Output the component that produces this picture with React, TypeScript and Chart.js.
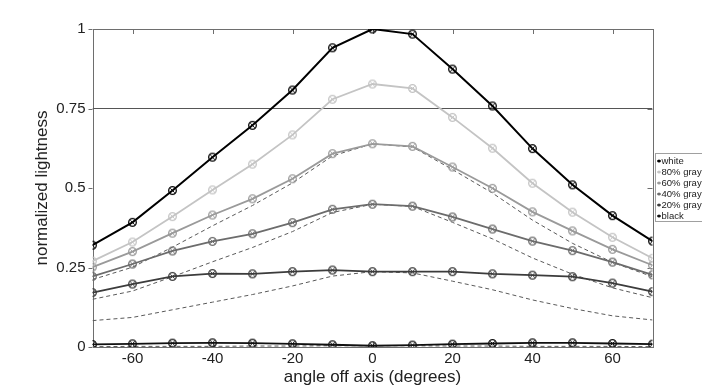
import React, { useEffect, useRef } from "react";
import { Chart, registerables } from "chart.js";

Chart.register(...registerables);

const angles = [-70, -60, -50, -40, -30, -20, -10, 0, 10, 20, 30, 40, 50, 60, 70];
const white = [0.32, 0.392, 0.492, 0.597, 0.697, 0.808, 0.941, 1.0, 0.984, 0.874, 0.758, 0.624, 0.51, 0.413, 0.333];
const gray80 = [0.27, 0.33, 0.41, 0.494, 0.575, 0.667, 0.779, 0.827, 0.813, 0.722, 0.625, 0.515, 0.424, 0.345, 0.279];
const gray60 = [0.251, 0.3, 0.358, 0.415, 0.466, 0.529, 0.608, 0.639, 0.631, 0.566, 0.499, 0.425, 0.365, 0.307, 0.257];
const gray40 = [0.222, 0.261, 0.302, 0.332, 0.356, 0.391, 0.433, 0.449, 0.443, 0.409, 0.371, 0.333, 0.303, 0.267, 0.227];
const gray20 = [0.171, 0.198, 0.222, 0.231, 0.23, 0.237, 0.242, 0.237, 0.237, 0.237, 0.23, 0.226, 0.221, 0.201, 0.174];
const black = [0.008, 0.01, 0.012, 0.013, 0.012, 0.01, 0.007, 0.004, 0.006, 0.009, 0.011, 0.013, 0.013, 0.011, 0.009];

// dashed reference curves
const ref60 = [0.212, 0.251, 0.314, 0.381, 0.445, 0.516, 0.601, 0.639, 0.629, 0.558, 0.484, 0.399, 0.326, 0.266, 0.221];
const ref40 = [0.15, 0.176, 0.221, 0.268, 0.313, 0.363, 0.423, 0.449, 0.442, 0.392, 0.34, 0.28, 0.229, 0.186, 0.155];
const ref20 = [0.083, 0.093, 0.117, 0.141, 0.165, 0.192, 0.223, 0.237, 0.233, 0.207, 0.18, 0.148, 0.121, 0.098, 0.085];
const refBlack = [0.001, 0.002, 0.002, 0.002, 0.003, 0.003, 0.004, 0.004, 0.004, 0.003, 0.003, 0.002, 0.002, 0.002, 0.001];

const thresholdValue = 0.75;
const xTicks = [-60, -40, -20, 0, 20, 40, 60];
const yTicks = [0, 0.25, 0.5, 0.75, 1];
const yTickLabels = ["0", "0.25", "0.5", "0.75", "1"];
const seriesNames = ["white", "80% gray", "60% gray", "40% gray", "20% gray", "black"];
const xTitle = "angle off axis (degrees)";
const yTitle = "normalized lightness";

const FONT = "'Liberation Sans', Arial, sans-serif";
const seriesColors = ["#000000", "#c4c4c4", "#9a9a9a", "#6c6c6c", "#3c3c3c", "#111111"];

function makeMarker(color: string): HTMLCanvasElement {
  const c = document.createElement("canvas");
  c.width = 11;
  c.height = 11;
  const g = c.getContext("2d")!;
  g.strokeStyle = color;
  g.lineWidth = 1.3;
  g.beginPath();
  g.arc(5.5, 5.5, 3.8, 0, Math.PI * 2);
  g.stroke();
  g.lineWidth = 1;
  g.beginPath();
  g.moveTo(3.3, 3.3);
  g.lineTo(7.7, 7.7);
  g.moveTo(7.7, 3.3);
  g.lineTo(3.3, 7.7);
  g.stroke();
  return c;
}

const framePlugin = {
  id: "frame",
  beforeDatasetsDraw(chart: any) {
    const { ctx, chartArea: a, scales } = chart;
    ctx.save();
    ctx.strokeStyle = "#6e6e6e";
    ctx.lineWidth = 1;
    ctx.strokeRect(Math.round(a.left) + 0.5, Math.round(a.top) + 0.5, Math.round(a.right - a.left), Math.round(a.bottom - a.top));
    ctx.beginPath();
    for (const v of xTicks) {
      const px = Math.round(scales.x.getPixelForValue(v)) + 0.5;
      ctx.moveTo(px, a.top);
      ctx.lineTo(px, a.top + 5);
      ctx.moveTo(px, a.bottom);
      ctx.lineTo(px, a.bottom - 5);
    }
    for (const v of yTicks) {
      const py = Math.round(scales.y.getPixelForValue(v)) + 0.5;
      ctx.moveTo(a.left - 4, py);
      ctx.lineTo(a.left, py);
      ctx.moveTo(a.right, py);
      ctx.lineTo(a.right - 5, py);
    }
    ctx.stroke();
    ctx.restore();
  },
  afterDraw(chart: any) {
    const { ctx, chartArea: a } = chart;
    ctx.save();
    ctx.fillStyle = "#222";
    ctx.font = `17px ${FONT}`;
    ctx.textAlign = "center";
    ctx.textBaseline = "middle";
    ctx.fillText(xTitle, (a.left + a.right) / 2, 377);
    ctx.translate(42, (a.top + a.bottom) / 2);
    ctx.rotate(-Math.PI / 2);
    ctx.fillText(yTitle, 0, 0);
    ctx.restore();

    // legend
    ctx.save();
    const lx = 655.5;
    const ly = 153.5;
    ctx.fillStyle = "#ffffff";
    ctx.fillRect(lx, ly, 60, 68);
    ctx.strokeStyle = "#a0a0a0";
    ctx.lineWidth = 1;
    ctx.strokeRect(lx, ly, 60, 68);
    ctx.font = `9.5px ${FONT}`;
    ctx.textBaseline = "middle";
    ctx.textAlign = "left";
    seriesNames.forEach((name, i) => {
      const y = 161 + i * 11;
      const col = seriesColors[i];
      ctx.strokeStyle = col;
      ctx.lineWidth = 1;
      ctx.beginPath();
      ctx.moveTo(657, y);
      ctx.lineTo(661, y);
      ctx.stroke();
      ctx.fillStyle = col;
      ctx.beginPath();
      ctx.arc(659, y, 1.6, 0, Math.PI * 2);
      ctx.fill();
      ctx.fillStyle = "#222";
      ctx.fillText(name, 661.5, y);
    });
    ctx.restore();
  },
};

export default function App() {
  const ref = useRef<HTMLCanvasElement | null>(null);
  useEffect(() => {
    const series = [white, gray80, gray60, gray40, gray20, black];
    const datasets: any[] = series.map((vals, i) => ({
      label: seriesNames[i],
      data: angles.map((x, j) => ({ x, y: vals[j] })),
      borderColor: seriesColors[i],
      borderWidth: i === 0 ? 2 : 1.8,
      pointStyle: makeMarker(seriesColors[i]),
      pointRadius: 4,
      pointHoverRadius: 4,
      fill: false,
      tension: 0,
    }));
    [ref60, ref40, ref20, refBlack].forEach((vals, i) => {
      datasets.push({
        label: "ref" + i,
        data: angles.map((x, j) => ({ x, y: vals[j] })),
        borderColor: "#5a5a5a",
        borderWidth: 1,
        borderDash: [4, 3],
        pointRadius: 0,
        fill: false,
        tension: 0,
      });
    });
    datasets.push({
      label: "threshold",
      data: [
        { x: angles[0], y: thresholdValue },
        { x: angles[angles.length - 1], y: thresholdValue },
      ],
      borderColor: "#555555",
      borderWidth: 1.2,
      pointRadius: 0,
      fill: false,
    });

    const chart = new Chart(ref.current!, {
      type: "line",
      data: { datasets },
      options: {
        animation: false,
        responsive: false,
        devicePixelRatio: 1,
        layout: { padding: { top: 29, right: 49.5, left: 0, bottom: 0 } },
        plugins: { legend: { display: false }, tooltip: { enabled: false } },
        scales: {
          x: {
            type: "linear",
            min: -70,
            max: 70,
            grid: { display: false, drawTicks: false },
            border: { display: false },
            afterBuildTicks: (s: any) => {
              s.ticks = xTicks.map((v) => ({ value: v }));
            },
            afterFit: (s: any) => {
              s.height = 43;
            },
            ticks: {
              padding: 3,
              color: "#222",
              font: { family: FONT, size: 15 },
              maxRotation: 0,
              callback: (v: any) => String(v),
            },
          },
          y: {
            type: "linear",
            min: 0,
            max: 1,
            grid: { display: false, drawTicks: false },
            border: { display: false },
            afterBuildTicks: (s: any) => {
              s.ticks = yTicks.map((v) => ({ value: v }));
            },
            afterFit: (s: any) => {
              s.width = 92.5;
            },
            ticks: {
              padding: 7,
              color: "#222",
              font: { family: FONT, size: 15 },
              callback: (v: any) => {
                const k = yTicks.indexOf(Number(v));
                return k >= 0 ? yTickLabels[k] : "";
              },
            },
          },
        },
      },
      plugins: [framePlugin],
    });
    return () => chart.destroy();
  }, []);

  return (
    <div style={{ position: "fixed", left: 0, top: 0, width: 702, height: 390, background: "#fff" }}>
      <canvas ref={ref} width={702} height={390} style={{ width: 702, height: 390, display: "block" }} />
    </div>
  );
}
